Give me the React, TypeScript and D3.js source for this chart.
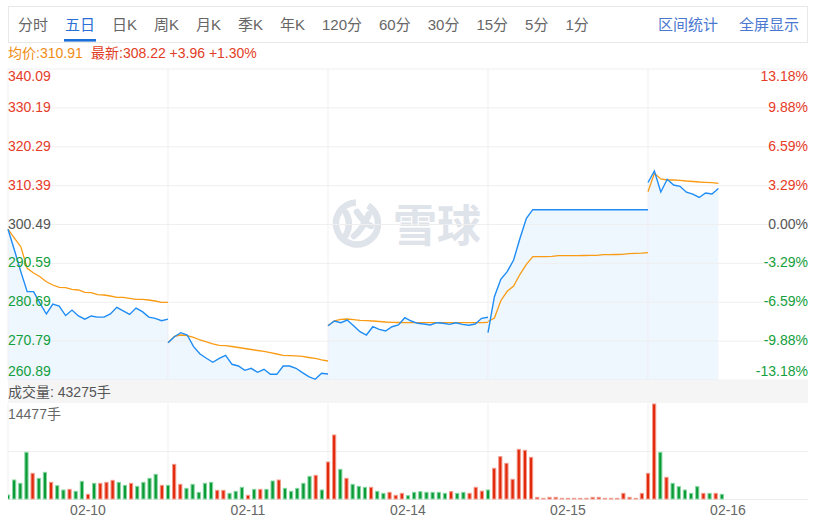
import React from 'react';
import * as d3 from 'd3';

// ---------- data ----------
const tabs = ['分时', '五日', '日K', '周K', '月K', '季K', '年K', '120分', '60分', '30分', '15分', '5分', '1分'];
const activeTab = '五日';
const rightTabs = ['区间统计', '全屏显示'];

const avgPriceText = '均价:310.91';
const latestText = '最新:308.22 +3.96 +1.30%';
const volumeTotalText = '成交量: 43275手';
const volumeMaxText = '14477手';

const dates = ['02-10', '02-11', '02-14', '02-15', '02-16'];
const prevClose = 300.49;
const priceTickValues = [260.89, 270.79, 280.69, 290.59, 300.49, 310.39, 320.29, 330.19, 340.09];
const volumeMax = 14477;

const priceDay1 = [299.3, 294.0, 288.5, 283.4, 283.4, 280.4, 277.7, 280.2, 279.7, 277.3, 278.7, 277.2, 276.4,
  277.2, 276.9, 276.9, 277.7, 279.4, 278.5, 277.6, 279.2, 278.3, 276.9, 276.6, 276.0, 276.4];
const priceDay2 = [270.39, 271.92, 272.94, 272.35, 269.37, 267.51, 266.42, 265.40, 266.42, 267.18, 264.89, 264.46,
  263.36, 263.87, 262.85, 263.61, 262.34, 262.34, 264.46, 264.46, 263.87, 262.75, 261.73, 261.07, 262.60, 262.42];
const priceDay3 = [274.72, 275.91, 275.48, 276.17, 274.72, 273.19, 272.35, 274.46, 273.80, 273.37, 274.46, 274.90,
  276.76, 275.91, 275.33, 275.15, 274.90, 275.48, 275.33, 275.07, 275.48, 275.07, 274.82, 275.15, 276.60, 276.86];
const priceDay4 = [272.94, 282.10, 286.53, 288.47, 291.45, 296.98, 302.07, 304.26, 304.26, 304.26, 304.26, 304.26,
  304.26, 304.26, 304.26, 304.26, 304.26, 304.26, 304.26, 304.26, 304.26, 304.26, 304.26, 304.26, 304.26, 304.26];
const priceDay5 = [311.19, 314.11, 308.77, 312.00, 310.55, 310.22, 308.72, 308.21, 307.37, 308.51, 308.26, 309.66];

const avgDay1 = [299.3, 297.05, 294.84, 289.34, 288.14, 287.20, 285.92, 285.08, 284.50, 284.40, 283.99, 283.81, 283.22,
  283.12, 282.61, 282.54, 282.28, 281.95, 281.95, 281.70, 281.44, 281.44, 281.26, 281.01, 280.68, 280.68];
const avgDay2 = [270.39, 272.02, 272.35, 272.17, 271.74, 271.08, 270.57, 270.06, 269.70, 269.65, 269.42, 269.17,
  268.91, 268.66, 268.40, 268.20, 267.89, 267.51, 267.18, 267.10, 267.05, 266.90, 266.62, 266.37, 266.03, 265.73];
const avgDay3 = [274.72, 275.97, 276.32, 276.42, 276.25, 276.09, 275.99, 275.91, 275.79, 275.66, 275.58, 275.53,
  275.51, 275.51, 275.51, 275.51, 275.51, 275.51, 275.51, 275.51, 275.51, 275.51, 275.51, 275.51, 275.51, 275.58];
const avgDay4 = [275.79, 276.68, 281.08, 283.48, 284.83, 287.81, 290.35, 292.29, 292.29, 292.29, 292.39, 292.54,
  292.54, 292.54, 292.54, 292.59, 292.65, 292.65, 292.80, 292.80, 292.85, 292.90, 293.05, 293.16, 293.18, 293.31];
const avgDay5 = [308.84, 313.53, 312.08, 311.82, 311.82, 311.74, 311.57, 311.44, 311.31, 311.24, 311.14, 310.98];

const volDay1 = [610, 2896, 2390, 7115, 3911, 3150, 4064, 2540, 2032, 1372, 1473, 1168, 2693, 711, 2390, 2390,
  2540, 2845, 2540, 2083, 2390, 1931, 2540, 3150, 3759, 2083];
const volDay2 = [2083, 5283, 2235, 1626, 2235, 1016, 2390, 2540, 1321, 1321, 864, 1168, 1778, 560, 1473, 1473,
  1473, 2743, 2896, 1626, 1168, 1626, 2390, 3455, 3607, 1372];
const volDay3 = [5639, 9754, 4521, 3150, 2235, 1931, 1778, 1778, 1168, 864, 1016, 559, 864, 500, 1016, 1117,
  1016, 1016, 1016, 864, 1117, 864, 1016, 864, 1778, 1200];
const volDay4 = [1372, 4674, 6451, 5436, 3000, 7570, 7418, 6350, 254, 100, 254, 254, 100, 100, 100, 100,
  100, 254, 254, 100, 100, 100, 864, 254, 100, 864];
const volDay5 = [3911, 14477, 7115, 3302, 2390, 1880, 1372, 864, 1880, 864, 864, 864, 711];

// R = up (red), G = down (green)
const dirDay1 = 'GGGGRGGRGGRGGRGRRRGGRGGGGR';
const dirDay2 = 'GRRGGGGGRRGGGRGRGGRGGGGGRG';
const dirDay3 = 'RRGRGGGRGGRRRGGGGGGGRGGRRR';
const dirDay4 = 'GRRRRRRRRRRRRRRRRRRRRRRRRR';
const dirDay5 = 'RRGRGGGGGRGRG';

const priceSeries = [priceDay1, priceDay2, priceDay3, priceDay4, priceDay5];
const avgSeries = [avgDay1, avgDay2, avgDay3, avgDay4, avgDay5];
const volSeries = [volDay1, volDay2, volDay3, volDay4, volDay5];
const dirSeries = [dirDay1, dirDay2, dirDay3, dirDay4, dirDay5];

// ---------- layout ----------
const L = 8, R = 808;
const PT = 69, PB = 380;
const VT = 404, VB = 499;
const LINE_PTS = 25; // intervals per day for lines
const BAR_PTS = 26; // bar slots per day

const RED = '#e63c28';
const GREEN = '#13a03c';
const GREY = '#555';
const FONT = "'Liberation Sans', Arial, 'Noto Sans CJK SC', sans-serif";

function textW(s: string, size: number) {
  let w = 0;
  for (const ch of s) {
    if (/[\u4e00-\u9fff]/.test(ch)) w += size;
    else if (ch === 'K') w += size * 0.667;
    else w += size * 0.556;
  }
  return w;
}

export default function App() {
  const xLine = d3.scaleLinear().domain([0, LINE_PTS * 5]).range([L, R]);
  const xBar = d3.scaleLinear().domain([0, BAR_PTS * 5]).range([L, R]);
  const y = d3.scaleLinear().domain([priceTickValues[0], priceTickValues[8]]).range([PB, PT]);
  const yVol = d3.scaleLinear().domain([0, volumeMax]).range([VB, VT]);

  // tab layout
  let tx = 18;
  const tabPos = tabs.map((t) => {
    const x = tx;
    tx += textW(t, 15) + 17;
    return { t, x, w: textW(t, 15) };
  });

  const dayBounds = d3.range(6).map((d) => xLine(d * LINE_PTS));

  const lineGen = (d: number) =>
    d3.line<number>().x((_, j) => xLine(d * LINE_PTS + j)).y((v) => y(v));
  const areaGen = (d: number) =>
    d3.area<number>().x((_, j) => xLine(d * LINE_PTS + j)).y0(PB).y1((v) => y(v));

  const labelY = (v: number, i: number) => {
    if (i === priceTickValues.length - 1) return PT + 6.5;
    if (i === 0) return PB - 9;
    return y(v) - 1;
  };
  const tickColor = (v: number) => (Math.abs(v - prevClose) < 0.001 ? GREY : v > prevClose ? RED : GREEN);

  const wmColor = '#dfe3ea';

  return (
    <svg width={819} height={528} style={{ position: 'absolute', left: 0, top: 0, background: '#fff' }} fontFamily={FONT}>
      <defs>
        <clipPath id="volClip">
          <rect x={L} y={VT - 2} width={R - L} height={VB - VT + 4} />
        </clipPath>
      </defs>

      {/* tab bar */}
      <rect x={8.5} y={6.5} width={799} height={36} fill="#fff" stroke="#e8e8e8" />
      {tabPos.map(({ t, x, w }) => (
        <g key={t}>
          <text x={x} y={24.5} fontSize={15} dominantBaseline="central" fill={t === activeTab ? '#2a6fd6' : '#666'}>{t}</text>
          {t === activeTab && <rect x={x - 1} y={39} width={w + 2} height={2.6} fill="#1a6fd8" />}
        </g>
      ))}
      <text x={718} y={24.5} fontSize={15} dominantBaseline="central" textAnchor="end" fill="#4a78d0">{rightTabs[0]}</text>
      <text x={799} y={24.5} fontSize={15} dominantBaseline="central" textAnchor="end" fill="#4a78d0">{rightTabs[1]}</text>

      {/* info line */}
      <text x={8} y={53} fontSize={14} dominantBaseline="central" fill="#f08c14">{avgPriceText}</text>
      <text x={91} y={53} fontSize={14} dominantBaseline="central" fill="#e23d25">{latestText}</text>

      {/* watermark */}
      <g stroke={wmColor} fill="none" strokeWidth={6.5} strokeLinecap="round">
        <path d={d3.arc()({ innerRadius: 21, outerRadius: 21, startAngle: 0.55, endAngle: 2 * Math.PI - 0.05 }) as string}
          transform="translate(357,223.5)" />
        <path d="M346,213 Q352,224 346,235" />
        <path d="M357,212 Q365,224 371,226" />
        <path d="M354,236 Q362,230 369,214" />
      </g>
      <text x={393} y={226} fontSize={44} fontWeight="bold" dominantBaseline="central" fill={wmColor}>雪球</text>

      {/* areas */}
      {priceSeries.map((s, d) => (
        <path key={'a' + d} d={areaGen(d)(s) as string} fill="#eef6fe" />
      ))}

      {/* price grid */}
      {priceTickValues.map((v) => (
        <line key={'h' + v} x1={L} x2={R} y1={y(v)} y2={y(v)} stroke="#efefef" strokeWidth={1} />
      ))}
      {dayBounds.slice(0, 5).map((x, i) => (
        <g key={'v' + i}>
          <line x1={x} x2={x} y1={PT} y2={PB} stroke="#efefef" />
          <line x1={x} x2={x} y1={VT} y2={VB} stroke="#efefef" />
        </g>
      ))}

      {/* lines */}
      {avgSeries.map((s, d) => (
        <path key={'m' + d} d={lineGen(d)(s) as string} fill="none" stroke="#fa9b14" strokeWidth={1.3} />
      ))}
      {priceSeries.map((s, d) => (
        <path key={'p' + d} d={lineGen(d)(s) as string} fill="none" stroke="#1e8cf5" strokeWidth={1.4} />
      ))}

      {/* price labels */}
      {priceTickValues.map((v, i) => (
        <g key={'l' + v}>
          <text x={L} y={labelY(v, i)} fontSize={14} dominantBaseline="central" fill={tickColor(v)}>{v.toFixed(2)}</text>
          <text x={R} y={labelY(v, i)} fontSize={14} dominantBaseline="central" textAnchor="end" fill={tickColor(v)}>
            {(((v - prevClose) / prevClose) * 100).toFixed(2) + '%'}
          </text>
        </g>
      ))}

      {/* volume header */}
      <rect x={L} y={PB} width={R - L} height={23} fill="#f5f5f5" />
      <text x={L} y={391.5} fontSize={14} dominantBaseline="central" fill={GREY}>{volumeTotalText}</text>
      <text x={L} y={414} fontSize={14} dominantBaseline="central" fill="#666">{volumeMaxText}</text>

      {/* volume grid */}
      <line x1={L} x2={R} y1={(VT + VB) / 2} y2={(VT + VB) / 2} stroke="#efefef" />
      <line x1={L} x2={R} y1={VB + 0.5} y2={VB + 0.5} stroke="#ececec" />

      {/* volume bars */}
      <g clipPath="url(#volClip)">
        {volSeries.map((s, d) =>
          s.map((v, j) => {
            const up = dirSeries[d][j] === 'R';
            const cx = xBar(d * BAR_PTS + j);
            const top = yVol(v);
            return (
              <rect key={d + '-' + j} x={cx - 1.6} y={top} width={3.2} height={Math.max(0.5, VB - top)}
                fill={up ? '#e22a0a' : '#0a9a36'} stroke={up ? '#f29a8c' : '#86d6a2'} strokeWidth={1} />
            );
          })
        )}
      </g>

      {/* dates */}
      {dates.map((t, i) => (
        <text key={t} x={(dayBounds[i] + dayBounds[i + 1]) / 2} y={510} fontSize={14} textAnchor="middle"
          dominantBaseline="central" fill="#666">{t}</text>
      ))}
    </svg>
  );
}
